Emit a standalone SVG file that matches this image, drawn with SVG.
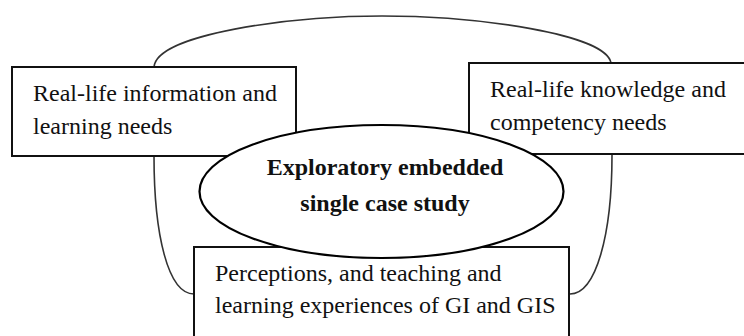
<svg xmlns="http://www.w3.org/2000/svg" width="744" height="336" viewBox="0 0 744 336">
<style>
.box{fill:#fff;stroke:#111;stroke-width:2}
.ell{fill:#fff;stroke:#000;stroke-width:2.2}
.con{fill:none;stroke:#333;stroke-width:1.6}
.t{font-family:"Liberation Serif","Times New Roman",serif;font-size:24px;fill:#111}
.b{font-weight:bold;text-anchor:middle}
</style>
<rect width="744" height="336" fill="#fff"/>
<g id="connectors">
<path class="con" d="M154,67 C157,34 290,16 382,16 C478,16 606,34 611,63"/>
<path class="con" d="M154,156 C154,235 168,294 194,294"/>
<path class="con" d="M612,155 C612,235 596,294 570,294"/>
</g>
<g id="node-left">
<rect class="box" x="12" y="67" width="284" height="89"/>
<text class="t" x="33" y="101">Real-life information and</text>
<text class="t" x="33" y="134">learning needs</text>
</g>
<g id="node-right">
<rect class="box" x="469" y="63" width="290" height="91"/>
<text class="t" x="490" y="97">Real-life knowledge and</text>
<text class="t" x="490" y="130">competency needs</text>
</g>
<g id="node-bottom">
<rect class="box" x="194" y="247" width="375" height="100"/>
<text class="t" x="215" y="281">Perceptions, and teaching and</text>
<text class="t" x="215" y="313">learning experiences of GI and GIS</text>
</g>
<g id="node-center">
<ellipse class="ell" cx="381.5" cy="191.5" rx="182" ry="66.5"/>
<text class="t b" x="385" y="175">Exploratory embedded</text>
<text class="t b" x="385" y="211">single case study</text>
</g>
</svg>
